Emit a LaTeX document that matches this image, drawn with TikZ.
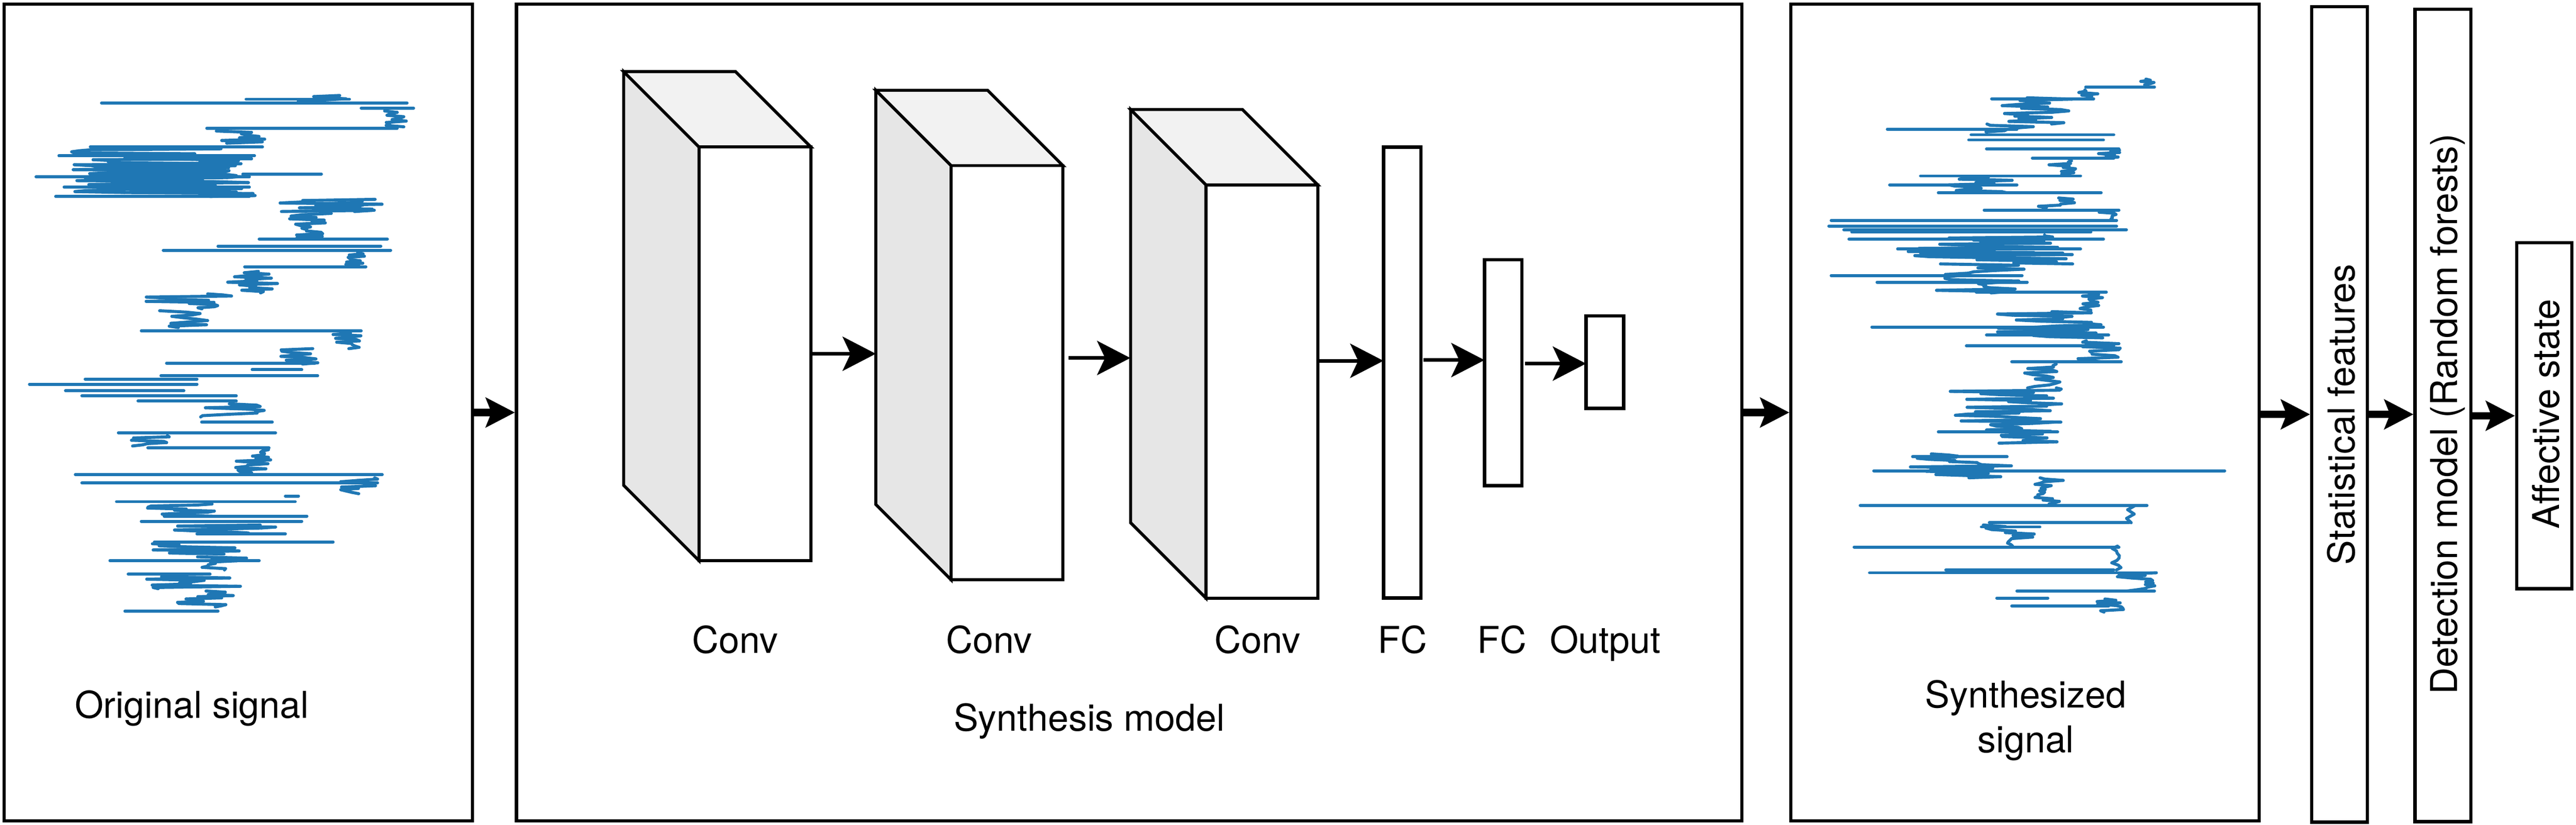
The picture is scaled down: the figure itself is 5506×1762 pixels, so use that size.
\documentclass[tikz,border=0pt]{standalone}
\usepackage{fontspec}
\setmainfont{TeX Gyre Heros}
\usetikzlibrary{arrows.meta,calc}
\definecolor{sigblue}{HTML}{1F77B4}
\definecolor{sidegray}{HTML}{E6E6E6}
\definecolor{topgray}{HTML}{F2F2F2}
\tikzset{
  panel/.style={draw, line width=7pt, inner sep=0pt, outer sep=0pt},
  convfront/.style={draw, fill=white, line width=6.5pt, inner sep=0pt, outer sep=0pt, minimum width=239pt},
  convline/.style={line width=6.5pt, line join=miter},
  fcbox/.style={draw, line width=7.5pt, inner sep=0pt, outer sep=0pt, minimum width=80pt},
  lbl/.style={font=\fontsize{79}{95}\selectfont, inner sep=0pt, outer sep=0pt},
  sig/.style={draw=sigblue, line width=6.5pt, line cap=round, line join=round},
  bigarrow/.style={line width=16pt, -{Stealth[length=62pt, width=63pt, inset=12pt]}},
  smallarrow/.style={line width=8pt, -{Stealth[length=71pt, width=73pt, inset=17pt]}},
}
\newcommand\hs[3]{\draw[sig] (#1,#3) -- (#2,#3);}
% zig-zag trace: y0 y1 xl xr n
\newcommand\sigcl[5]{%
  \pgfmathsetmacro\spx{#3+(#4-#3)*rnd}\xdef\spx{\spx}%
  \xdef\spy{#1}%
  \foreach \k in {1,...,#5}{%
    \pgfmathsetmacro\sy{#1+(#2-#1)*\k/#5}%
    \pgfmathsetmacro\sx{#3+(#4-#3)*rnd}%
    \draw[sig] (\spx,\spy) -- (\sx,\sy);
    \xdef\spx{\sx}\xdef\spy{\sy}%
  }}
\newcommand\convblk[4]{%
  \node[convfront, minimum height=#4pt] (#1) at (#2,#3) {};
  \draw[convline, fill=sidegray] (#1.north west) -- ++(-161,-161) -- ($(#1.south west)+(-161,-161)$) -- (#1.south west) -- cycle;
  \draw[convline, fill=topgray] (#1.north west) -- ++(-161,-161) -- ($(#1.north east)+(-161,-161)$) -- (#1.north east) -- cycle;
  \node[convfront, minimum height=#4pt] at (#2,#3) {};
}
\begin{document}
\begin{tikzpicture}[x=1pt,y=-1pt]
\pgfmathsetseed{17}
\useasboundingbox (0,0) rectangle (5506,1762);
\fill[white] (0,0) rectangle (5506,1762);

% ---------- panels ----------
\node[panel, minimum width=1001pt, minimum height=1745pt] (b1) at (509.5,881.5) {};
\node[panel, minimum width=2619pt, minimum height=1745pt] (b2) at (2413.5,881.5) {};
\node[panel, minimum width=1001pt, minimum height=1745pt] (b3) at (4328.5,881.5) {};
\node[panel, minimum width=119pt, minimum height=1743pt] (stat) at (5000.5,885.5) {};
\node[panel, minimum width=119pt, minimum height=1736pt] (det) at (5221.5,888) {};
\node[panel, minimum width=118pt, minimum height=739pt] (aff) at (5438,888.5) {};

% ---------- original signal ----------
\hs{217}{870}{220}
\hs{526}{747}{212}
\sigcl{204}{216}{630}{745}{5}
\hs{772}{884}{231}
\sigcl{234}{271}{817}{877}{12}
\hs{442}{849}{274}
\sigcl{280}{306}{449}{579}{9}
\hs{193}{561}{314}
\sigcl{318}{420}{150}{550}{48}
\sigcl{330}{410}{230}{520}{30}
\hs{126}{544}{333}
\hs{77}{533}{378}
\hs{519}{687}{372}
\hs{137}{533}{400}
\hs{119}{533}{420}
\sigcl{426}{452}{582}{817}{10}
\sigcl{430}{452}{660}{800}{8}
\sigcl{456}{508}{617}{716}{18}
\hs{554}{828}{511}
\hs{466}{814}{526}
\hs{349}{835}{535}
\sigcl{540}{570}{730}{782}{12}
\hs{523}{782}{570}
\sigcl{580}{626}{484}{596}{16}
\sigcl{628}{660}{300}{495}{14}
\sigcl{664}{700}{312}{456}{12}
\hs{302}{772}{707}
\sigcl{712}{745}{702}{772}{12}
\sigcl{745}{778}{596}{687}{12}
\hs{356}{673}{776}
\hs{539}{645}{790}
\hs{344}{679}{803}
\hs{182}{421}{810}
\hs{63}{421}{821}
\hs{140}{393}{835}
\hs{175}{505}{846}
\hs{295}{505}{857}
\sigcl{863}{891}{400}{568}{10}
\hs{431}{582}{902}
\hs{253}{589}{925}
\sigcl{931}{953}{267}{365}{9}
\hs{316}{575}{957}
\sigcl{961}{1010}{498}{582}{18}
\hs{161}{817}{1014}
\hs{175}{807}{1032}
\sigcl{1021}{1055}{723}{814}{12}
\hs{610}{638}{1060}
\hs{249}{631}{1072}
\sigcl{1077}{1103}{309}{463}{12}
\hs{351}{656}{1103}
\hs{302}{645}{1114}
\sigcl{1122}{1139}{365}{610}{8}
\hs{421}{610}{1141}
\hs{330}{712}{1158}
\sigcl{1162}{1184}{312}{526}{10}
\hs{235}{554}{1198}
\sigcl{1190}{1218}{421}{540}{10}
\hs{274}{449}{1227}
\sigcl{1230}{1258}{309}{516}{11}
\sigcl{1263}{1297}{365}{505}{14}
\hs{267}{466}{1306}

% ---------- synthesized signal ----------
\sigcl{169}{186}{4572}{4605}{7}
\hs{4458}{4605}{186}
\sigcl{192}{209}{4442}{4496}{6}
\hs{4257}{4475}{211}
\sigcl{209}{265}{4270}{4440}{20}
\hs{4034}{4311}{276}
\sigcl{265}{282}{4181}{4453}{6}
\hs{4213}{4518}{288}
\hs{4208}{4496}{299}
\hs{4246}{4529}{318}
\sigcl{321}{338}{4475}{4534}{7}
\hs{4344}{4518}{338}
\sigcl{338}{372}{4377}{4442}{12}
\hs{4105}{4447}{376}
\hs{4039}{4311}{395}
\sigcl{378}{412}{4115}{4311}{14}
\hs{4143}{4491}{412}
\sigcl{423}{446}{4355}{4464}{9}
\hs{4241}{4529}{449}
\sigcl{451}{468}{4485}{4529}{7}
\hs{3914}{4524}{471}
\hs{3909}{4524}{483}
\hs{3941}{4545}{491}
\hs{3958}{4469}{496}
\hs{3952}{4496}{511}
\sigcl{502}{564}{4061}{4431}{28}
\hs{4056}{4447}{532}
\hs{4105}{4409}{541}
\hs{3914}{4322}{589}
\hs{4012}{4333}{603}
\sigcl{564}{626}{4126}{4344}{22}
\hs{4224}{4502}{624}
\sigcl{626}{666}{4442}{4496}{12}
\sigcl{666}{722}{4257}{4507}{22}
\hs{4001}{4496}{699}
\hs{4246}{4507}{716}
\hs{4203}{4518}{739}
\sigcl{728}{773}{4431}{4534}{14}
\hs{4300}{4534}{773}
\sigcl{778}{829}{4322}{4409}{16}
\sigcl{829}{902}{4159}{4409}{30}
\hs{4143}{4398}{923}
\sigcl{902}{947}{4235}{4409}{16}
\hs{4088}{4290}{976}
\sigcl{970}{1021}{4083}{4311}{22}
\hs{4005}{4755}{1006}
\sigcl{1021}{1077}{4349}{4415}{20}
\hs{3976}{4589}{1080}
\sigcl{1080}{1117}{4540}{4589}{4}
\hs{4252}{4551}{1117}
\hs{4235}{4360}{1126}
\sigcl{1122}{1167}{4235}{4355}{14}
\hs{3963}{4529}{1169}
\sigcl{1167}{1218}{4513}{4534}{10}
\hs{4159}{4518}{1218}
\hs{3996}{4605}{1224}
\sigcl{1224}{1263}{4524}{4616}{14}
\hs{4311}{4605}{1263}
\hs{4268}{4377}{1278}
\sigcl{1280}{1308}{4475}{4540}{10}
\hs{4300}{4507}{1295}

% ---------- conv blocks ----------
\convblk{c1}{1613.5}{756}{884}
\convblk{c2}{2152.5}{796.5}{885}
\convblk{c3}{2697}{836.5}{883}
\coordinate (c2s) at (1872,756);
\coordinate (c3s) at (2416,765);

% ---------- FC layers ----------
\node[fcbox, minimum height=964pt] (fc1) at (2997,796) {};
\node[fcbox, minimum height=483pt] (fc2) at (3213,796.5) {};
\node[fcbox, minimum height=198pt] (out) at (3430,774) {};
\coordinate (fc1in) at ([yshift=25pt]fc1.west);
\coordinate (fc2in) at ([yshift=27pt]fc2.west);
\coordinate (outin) at ([yshift=-3pt]out.west);

% ---------- inner arrows ----------
\draw[smallarrow] (c1.east) -- (c2s);
\draw[smallarrow] ($(c2.east |- c3s)+(12,0)$) -- (c3s);
\draw[smallarrow] (c3.east |- fc1in) -- (fc1in);
\draw[smallarrow] ($(fc1.east |- fc2in)+(6,0)$) -- (fc2in);
\draw[smallarrow] ($(fc2.east |- outin)+(6,0)$) -- (outin);

% ---------- outer arrows ----------
\draw[bigarrow] ([xshift=-3.5pt]b1.east) -- ([xshift=-3.5pt]b2.west);
\draw[bigarrow] ([xshift=-3.5pt]b2.east) -- ([xshift=-3.5pt]b3.west);
\draw[bigarrow] ([xshift=-3.5pt]b3.east |- stat.west) -- ([xshift=-3.5pt]stat.west);
\draw[bigarrow] ([xshift=-3.5pt]stat.east) -- ([xshift=-3.5pt]stat.east -| det.west);
\draw[bigarrow] ([xshift=-3.5pt]det.east |- aff.west) -- ([xshift=-3.5pt]aff.west);

% ---------- labels ----------
\node[lbl, anchor=base] (l1) at (410,1534) {Original signal};
\node[lbl, anchor=base] (lc1) at (1571,1396) {Conv};
\node[lbl, anchor=base] (lc2) at (2114,1396) {Conv};
\node[lbl, anchor=base] (lc3) at (2688,1396) {Conv};
\node[lbl, anchor=base] (lf1) at (2998,1396) {FC};
\node[lbl, anchor=base] (lf2) at (3210,1396) {FC};
\node[lbl, anchor=base] (lo) at (3431,1396) {Output};
\node[lbl, anchor=base] (l2) at (2328,1562) {Synthesis model};
\node[lbl, align=center] (l3) at (4330,1539.5) {Synthesized\\signal};
\node[lbl, rotate=90, anchor=base] (ls) at (5033,886) {Statistical features};
\node[lbl, rotate=90, anchor=base] (ld) at (5252,885) {Detection model (Random forests)};
\node[lbl, rotate=90, anchor=base] (la) at (5470,885) {Affective state};
\end{tikzpicture}
\end{document}
